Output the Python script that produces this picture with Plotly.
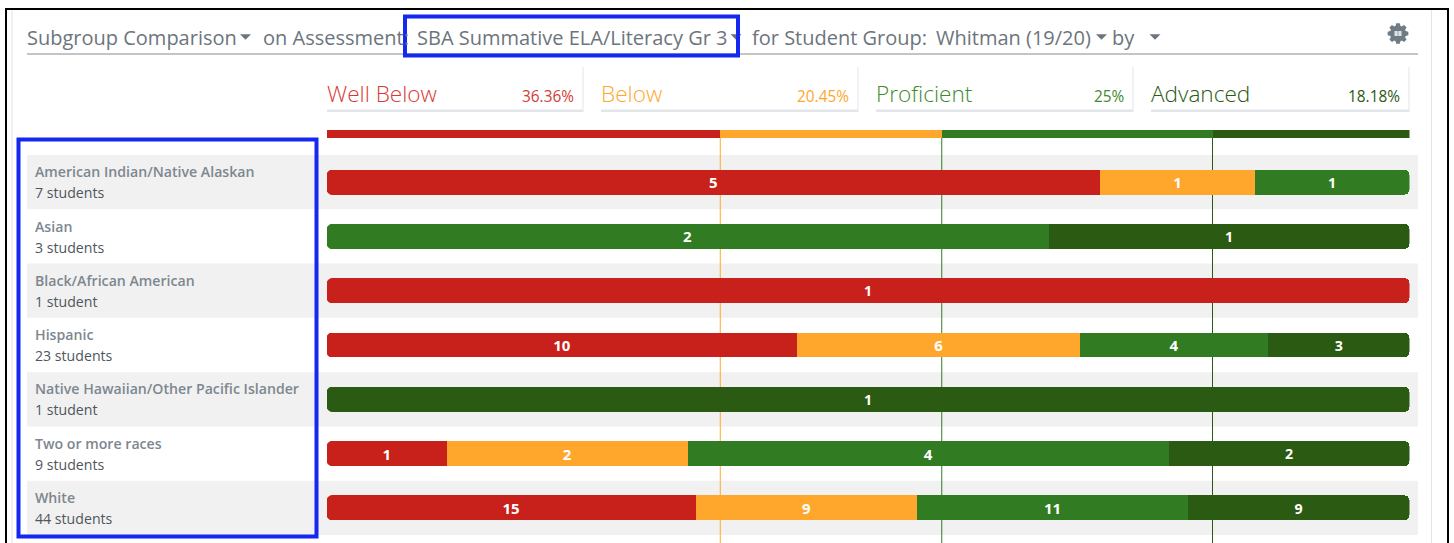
import plotly.graph_objects as go
import itertools
import math

W, H = 1454, 543
FONT = "Open Sans"

groups = ["American Indian/Native Alaskan", "Asian", "Black/African American", "Hispanic",
          "Native Hawaiian/Other Pacific Islander", "Two or more races", "White"]
student_counts = ["7 students", "3 students", "1 student", "23 students", "1 student", "9 students", "44 students"]

levels = ["Well Below", "Below", "Proficient", "Advanced"]
level_colors = ["#c8201a", "#ffa72c", "#317c22", "#2b5a12"]
level_text_colors = ["#d43c36", "#ffa72c", "#3f8a2f", "#2b5a12"]
overall_pct = [36.36, 20.45, 25, 18.18]
overall_labels = ["36.36%", "20.45%", "25%", "18.18%"]

well_below = [5, 0, 1, 10, 0, 1, 15]
below = [1, 0, 0, 6, 0, 2, 9]
proficient = [1, 2, 0, 4, 0, 4, 11]
advanced = [0, 1, 0, 3, 1, 2, 9]
series = [well_below, below, proficient, advanced]


def px(x):
    return x / W


def py(y):
    return 1 - y / H


PLOT_L, PLOT_R = 326.5, 1409.5
ROW_T, ROW_B = 155, 535
BAND = "#f1f1f1"
fig = go.Figure()

for name, vals, col in zip(levels, series, level_colors):
    fig.add_trace(go.Bar(
        y=list(range(len(groups))), x=[v if v else None for v in vals], orientation="h", name=name,
        marker=dict(color=col, line=dict(width=0)),
        text=[str(v) if v else "" for v in vals], textposition="inside", insidetextanchor="middle",
        textangle=0, constraintext="none",
        textfont=dict(family=FONT, size=15, color="white", weight=700),
        xaxis="x", yaxis="y", showlegend=False, hoverinfo="skip",
    ))

for name, val, col in zip(levels, overall_pct, level_colors):
    fig.add_trace(go.Bar(
        y=[0], x=[val], orientation="h", name=name, width=[1],
        marker=dict(color=col, line=dict(width=0), cornerradius=0),
        xaxis="x", yaxis="y2", showlegend=False, hoverinfo="skip",
    ))

shapes = []
annotations = []


def text(x, y, s, size, color, anchor="left", weight=400):
    annotations.append(dict(
        xref="paper", yref="paper", x=px(x), y=py(y), text=s, showarrow=False,
        xanchor=anchor, yanchor="middle", align=anchor, borderpad=0,
        font=dict(family=FONT, size=size, color=color, weight=weight)))


def rect(x0, y0, x1, y1, fill=None, line=None, lw=0, layer="below"):
    shapes.append(dict(type="rect", xref="paper", yref="paper", x0=px(x0), x1=px(x1), y0=py(y0), y1=py(y1),
                       fillcolor=fill or "rgba(0,0,0,0)", line=dict(color=line or "rgba(0,0,0,0)", width=lw),
                       layer=layer))


def caret(cx, cy, col="#6c757d", w=5.5, h=5.5):
    path = f"M {px(cx-w)} {py(cy-h/2)} L {px(cx+w)} {py(cy-h/2)} L {px(cx)} {py(cy+h/2)} Z"
    shapes.append(dict(type="path", xref="paper", yref="paper", path=path, fillcolor=col, line=dict(width=0), layer="above"))


# row bands, labels and the rounded left ends of the bars
for i in range(len(groups)):
    bg = BAND if i % 2 == 0 else "#ffffff"
    if i % 2 == 0:
        shapes.append(dict(type="rect", xref="paper", yref="y", x0=px(27), x1=px(1418), y0=i - 0.5, y1=i + 0.5,
                           fillcolor=BAND, line=dict(width=0), layer="below"))
    annotations.append(dict(xref="paper", yref="y", x=px(33), y=i, yshift=10.3, text=groups[i], showarrow=False,
                            xanchor="left", yanchor="middle",
                            font=dict(family=FONT, size=14.15, color="#7d878f", weight=600)))
    annotations.append(dict(xref="paper", yref="y", x=px(33), y=i, yshift=-10.7, text=student_counts[i], showarrow=False,
                            xanchor="left", yanchor="middle",
                            font=dict(family=FONT, size=14.15, color="#50565c")))
    r, hb, k = 5, 12.5, 2.2
    for sgn in (1, -1):
        shapes.append(dict(type="path", xref="x", yref="y", xsizemode="pixel", ysizemode="pixel",
                           xanchor=0, yanchor=i,
                           path=(f"M {r} {sgn*hb} C {r-k} {sgn*hb} 0 {sgn*(hb-r+k)} 0 {sgn*(hb-r)} "
                                 f"L -1 {sgn*(hb-r)} L -1 {sgn*(hb+1)} L {r} {sgn*(hb+1)} Z"),
                           fillcolor=bg, line=dict(width=0), layer="above"))

# threshold lines
for cum, col in zip(itertools.accumulate(overall_pct[:-1]), level_colors[1:]):
    shapes.append(dict(type="line", xref="x", yref="paper", x0=cum, x1=cum, y0=0, y1=py(138),
                       line=dict(color=col, width=1), layer="below"))

# header
GREY = "#6c757d"
HS = 20
text(26, 37, "Subgroup Comparison", HS, GREY)
caret(245.5, 37)
text(262, 37, "on Assessment:", HS, GREY)
text(416, 37, "SBA Summative ELA/Literacy Gr 3", HS, GREY)
caret(736, 37)
text(751, 37, "for Student Group:", HS, GREY)
text(935, 37, "Whitman (19/20)", HS, GREY)
caret(1101.5, 37)
text(1111, 37, "by", HS, GREY)
caret(1155, 37)
shapes.append(dict(type="line", xref="paper", yref="paper", x0=px(27), x1=px(1418), y0=py(54), y1=py(54),
                   line=dict(color="#8a8a8a", width=1), layer="below"))

# settings gear icon
GCX, GCY, GR_OUT, GR_IN, TEETH = 1398, 33.5, 10.5, 8, 8
pts = []
for k_ in range(TEETH):
    a = 2 * math.pi * k_ / TEETH
    step = 2 * math.pi / TEETH
    for da, rad in ((-0.30, GR_IN), (-0.17, GR_OUT), (0.17, GR_OUT), (0.30, GR_IN)):
        t = a + da * step * 1.3
        pts.append((GCX + rad * math.cos(t), GCY + rad * math.sin(t)))
gear_path = "M " + " L ".join(f"{px(x)} {py(y)}" for x, y in pts) + " Z"
shapes.append(dict(type="path", xref="paper", yref="paper", path=gear_path, fillcolor="#6f7b85", line=dict(width=0), layer="above"))
rect(1394.5, 31, 1397.7, 36, fill="#dfe3e6", layer="above")
rect(1398.3, 31, 1401.5, 36, fill="#dfe3e6", layer="above")

# summary cards
card_left = [327, 601, 876, 1151]
card_right = [583, 858, 1133, 1409]
for l, r_, name, lab, col in zip(card_left, card_right, levels, overall_labels, level_text_colors):
    rect(l, 109.5, r_, 112, fill="#e2e5ea")
    shapes.append(dict(type="line", xref="paper", yref="paper", x0=px(r_), x1=px(r_), y0=py(67), y1=py(112),
                       line=dict(color="#e2e5ea", width=1), layer="below"))
    text(l - 1, 93, name, 22.6, col, weight=300)
    text(r_ - 8, 96, lab, 15.4, col, anchor="right")

# page edges
rect(11.5, 10, 12.5, 543, fill="#e4e4e4")
rect(1431, 10, 1432, 543, fill="#e4e4e4")
rect(5, 8, 7, 543, fill="#000000", layer="above")
rect(5, 8, 1449, 10, fill="#000000", layer="above")
rect(1447, 8, 1449, 543, fill="#000000", layer="above")

# blue highlight boxes
BLUE = "#1428f0"
rect(405, 16.5, 738, 55.5, line=BLUE, lw=4, layer="above")
rect(18.5, 139.5, 316.5, 536.5, line=BLUE, lw=4, layer="above")

fig.update_layout(
    width=W, height=H, margin=dict(l=0, r=0, t=0, b=0), paper_bgcolor="white", plot_bgcolor="rgba(0,0,0,0)",
    barmode="stack", barnorm="percent", bargap=0.54, barcornerradius=5,
    xaxis=dict(domain=[px(PLOT_L), px(PLOT_R)], range=[0, 100], visible=False, fixedrange=True),
    yaxis=dict(domain=[py(ROW_B), py(ROW_T)], range=[len(groups) - 0.5, -0.5], visible=False, fixedrange=True),
    yaxis2=dict(domain=[py(138), py(130)], range=[-0.5, 0.5], visible=False, anchor="x", fixedrange=True),
    shapes=shapes, annotations=annotations,
)

fig.write_html("out.html", config=dict(displayModeBar=False), post_script="document.body.style.margin='0';")
